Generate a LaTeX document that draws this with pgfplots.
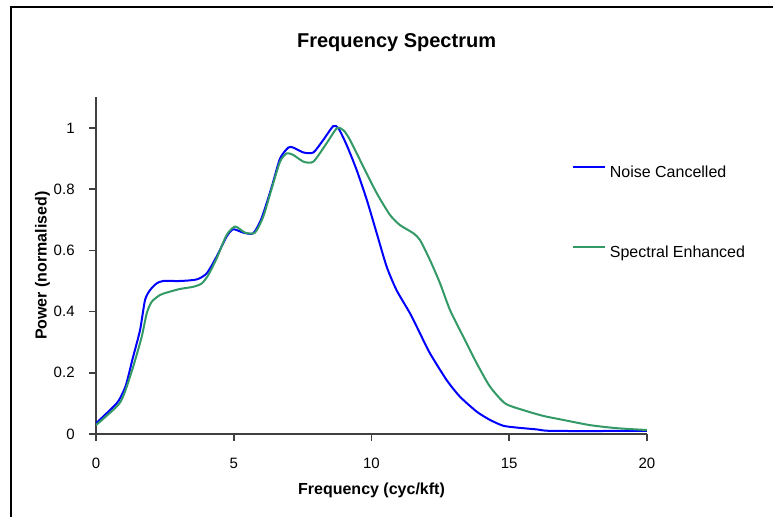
\documentclass[border=0pt]{standalone}
\usepackage{pgfplots}
\pgfplotsset{compat=1.18}
\usepackage{fontspec}
\setmainfont{Liberation Sans}
\definecolor{ncblue}{RGB}{0,0,255}
\definecolor{segreen}{RGB}{51,153,102}
\begin{document}
\begin{tikzpicture}
\useasboundingbox (0,0) rectangle (386.5pt,-258.5pt);
\draw[line width=1pt] (5.25pt,-258.5pt) -- (5.25pt,-3.75pt) -- (386.5pt,-3.75pt);
\node[font=\fontsize{10}{12}\selectfont\bfseries] at (198.3pt,-21.5pt) {Frequency Spectrum};
\begin{axis}[
  at={(48pt,-217pt)}, anchor=south west,
  scale only axis, width=275.5pt, height=168.3pt,
  xmin=0, xmax=20, ymin=0, ymax=1.1,
  axis lines=left,
  axis line style={-, black!75, line width=0.8pt},
  xtick={0,5,10,15,20}, ytick={0,0.2,0.4,0.6,0.8,1},
  tick align=outside,
  major tick length=3.5pt,
  tick style={black!75, line width=0.8pt},
  /pgf/number format/assume math mode=true,
  ticklabel style={font=\fontsize{7.5}{9}\selectfont},
  yticklabel style={inner sep=0pt, anchor=east},
  xticklabel style={inner sep=0pt, anchor=north},
  yticklabel shift=7pt,
  xticklabel shift=8.5pt,
  label style={font=\fontsize{8}{10}\selectfont\bfseries},
  xlabel={Frequency (cyc/kft)},
  ylabel={Power (normalised)},
  xlabel style={at={(axis description cs:0.5,-0.1664)}, anchor=center},
  ylabel style={at={(axis description cs:-0.097,0.5)}, anchor=center},
  legend style={draw=none, fill=none, inner sep=0pt, outer sep=0pt,
    at={(axis description cs:0.8633,0.7977)}, anchor=north west,
    font=\fontsize{8}{10}\selectfont,
    nodes={inner sep=0pt, text height=6pt, text depth=1.7pt},
    row sep=32.3pt, column sep=2.1pt},
  legend cell align=left,
  legend image code/.code={\draw[#1] (0pt,2.9pt) -- (16pt,2.9pt);},
]
\addplot[ncblue, line width=1pt, smooth, tension=0.4] coordinates {
(0,0.035) (0.75,0.10) (0.99,0.138) (1.11,0.167) (1.35,0.253) (1.60,0.34)
(1.78,0.438) (1.96,0.47) (2.2,0.492) (2.44,0.50) (3.05,0.50) (3.65,0.505)
(4.02,0.525) (4.38,0.58) (4.74,0.645) (4.98,0.669) (5.35,0.658) (5.71,0.656)
(6.01,0.705) (6.38,0.808) (6.68,0.90) (6.98,0.936) (7.16,0.936) (7.53,0.92)
(7.89,0.92) (8.25,0.961) (8.61,1.006) (8.80,0.999) (9.1,0.944) (9.46,0.863)
(9.83,0.765) (10.19,0.656) (10.55,0.547) (10.91,0.47) (11.40,0.394)
(11.76,0.329) (12.12,0.264) (12.73,0.176) (13.21,0.122) (13.82,0.073)
(14.30,0.046) (14.78,0.027) (15.27,0.021) (16.0,0.015) (16.6,0.010) (20,0.010)
};
\addlegendentry{Noise Cancelled}
\addplot[segreen, line width=1pt, smooth, tension=0.4] coordinates {
(0,0.029) (0.81,0.095) (1.05,0.138) (1.35,0.22) (1.66,0.318) (1.84,0.394)
(2.02,0.432) (2.32,0.454) (2.56,0.462) (3.05,0.474) (3.53,0.481) (3.84,0.492)
(4.08,0.52) (4.38,0.574) (4.74,0.65) (5.05,0.678) (5.41,0.658) (5.77,0.658)
(6.07,0.71) (6.38,0.803) (6.68,0.89) (6.92,0.917) (7.16,0.912) (7.53,0.89)
(7.89,0.89) (8.37,0.95) (8.74,0.999) (8.98,0.993) (9.22,0.961) (9.70,0.874)
(10.19,0.787) (10.67,0.716) (11.03,0.683) (11.52,0.656) (11.76,0.634)
(12.12,0.569) (12.49,0.492) (12.85,0.405) (13.33,0.318) (13.82,0.231)
(14.30,0.155) (14.85,0.10) (15.51,0.078) (16.24,0.059) (16.96,0.046)
(17.93,0.029) (18.9,0.019) (20,0.013)
};
\addlegendentry{Spectral Enhanced}
\end{axis}
\end{tikzpicture}
\end{document}
